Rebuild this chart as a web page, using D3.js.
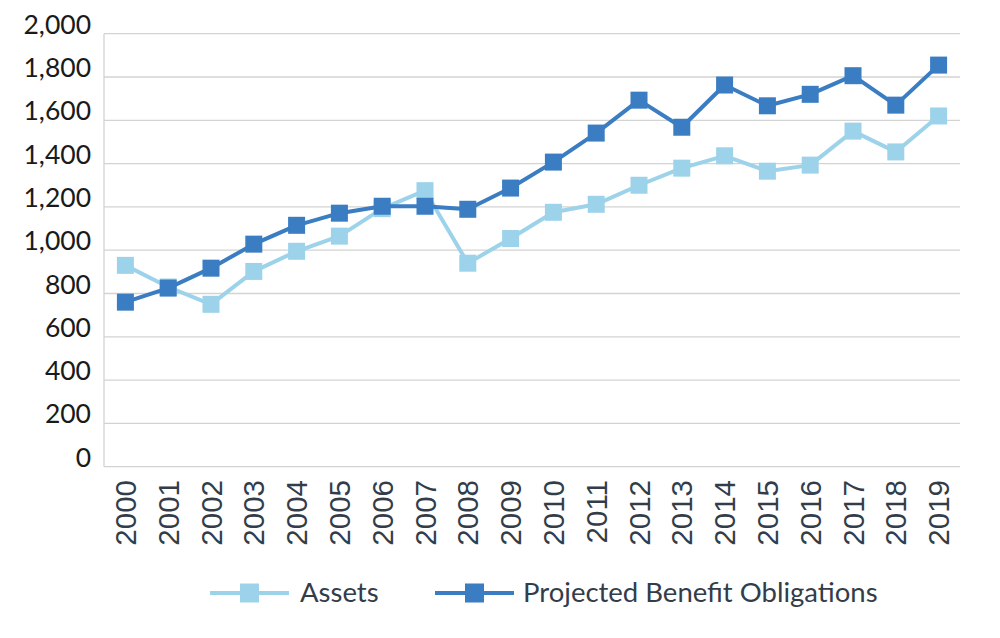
<!DOCTYPE html>
<html>
<head>
<meta charset="utf-8">
<script src="https://cdn.jsdelivr.net/npm/d3@7"></script>
<style>
  body { margin: 0; background: #fff; }
  svg { display: block; }
</style>
</head>
<body>
<svg width="1000" height="638"></svg>
<script>
const years = ['2000', '2001', '2002', '2003', '2004', '2005', '2006', '2007', '2008', '2009',
  '2010', '2011', '2012', '2013', '2014', '2015', '2016', '2017', '2018', '2019'];
const assets = [930, 830, 750, 902, 995, 1065, 1192, 1275, 940, 1054,
  1175, 1212, 1300, 1379, 1436, 1365, 1393, 1550, 1454, 1620];
const pbo = [760, 825, 917, 1028, 1115, 1171, 1203, 1203, 1189, 1287,
  1407, 1541, 1693, 1568, 1763, 1667, 1720, 1806, 1670, 1855];
const yTicks = [0, 200, 400, 600, 800, 1000, 1200, 1400, 1600, 1800, 2000];

const series = [
  { name: 'Assets', values: assets, color: '#9dd3ea' },
  { name: 'Projected Benefit Obligations', values: pbo, color: '#3a7dc2' }
];

const margin = { top: 33.7, left: 104, right: 40, bottom: 171.3 };
const width = 1000, height = 638;

const svg = d3.select('svg');

const x = d3.scaleBand()
  .domain(years)
  .range([margin.left, width - margin.right]);

const y = d3.scaleLinear()
  .domain([0, 2000])
  .range([height - margin.bottom, margin.top]);

// gridlines
svg.append('g')
  .selectAll('line')
  .data(yTicks)
  .join('line')
  .attr('x1', margin.left)
  .attr('x2', width - margin.right)
  .attr('y1', d => y(d))
  .attr('y2', d => y(d))
  .attr('stroke', '#d3d3d3')
  .attr('stroke-width', 1.3);

// left axis line
svg.append('line')
  .attr('x1', margin.left).attr('x2', margin.left)
  .attr('y1', y(2000)).attr('y2', y(0))
  .attr('stroke', '#d3d3d3')
  .attr('stroke-width', 1.3);

// y labels
svg.append('g')
  .selectAll('text')
  .data(yTicks)
  .join('text')
  .attr('x', 91)
  .attr('y', d => y(d))
  .attr('text-anchor', 'end')
  .attr('font-family', 'Lato, sans-serif')
  .attr('font-size', 26.5)
  .attr('fill', '#1a1a1a')
  .text(d => d3.format(',')(d));

// x labels
svg.append('g')
  .selectAll('text')
  .data(years)
  .join('text')
  .attr('transform', d => `translate(${x(d) + x.bandwidth() / 2 + 10.5},480) rotate(-90)`)
  .attr('text-anchor', 'end')
  .attr('font-family', '"Liberation Sans", Arial, sans-serif')
  .attr('font-size', 29.5)
  .attr('fill', '#333d4a')
  .text(d => d);

const line = d3.line()
  .x((d, i) => x(years[i]) + x.bandwidth() / 2)
  .y(d => y(d));

const msize = 17;

series.forEach(s => {
  const g = svg.append('g');
  g.append('path')
    .datum(s.values)
    .attr('fill', 'none')
    .attr('stroke', s.color)
    .attr('stroke-width', 4)
    .attr('stroke-linejoin', 'round')
    .attr('d', line);
  g.selectAll('rect')
    .data(s.values)
    .join('rect')
    .attr('x', (d, i) => x(years[i]) + x.bandwidth() / 2 - msize / 2)
    .attr('y', d => y(d) - msize / 2)
    .attr('width', msize)
    .attr('height', msize)
    .attr('fill', s.color);
});

// legend
const lsize = 19;
const legendPos = [{ x: 210, tx: 300 }, { x: 435, tx: 523 }];
const legend = svg.append('g')
  .selectAll('g')
  .data(series)
  .join('g')
  .attr('transform', (d, i) => `translate(${legendPos[i].x},593)`);

legend.append('line')
  .attr('x1', 0).attr('x2', 79)
  .attr('stroke', d => d.color)
  .attr('stroke-width', 4);

legend.append('rect')
  .attr('x', 39.5 - lsize / 2)
  .attr('y', -lsize / 2)
  .attr('width', lsize)
  .attr('height', lsize)
  .attr('fill', d => d.color);

legend.append('text')
  .attr('x', (d, i) => legendPos[i].tx - legendPos[i].x)
  .attr('y', 9)
  .attr('font-family', 'Lato, sans-serif')
  .attr('font-size', 27.5)
  .attr('fill', '#333d4a')
  .text(d => d.name);
</script>
</body>
</html>
